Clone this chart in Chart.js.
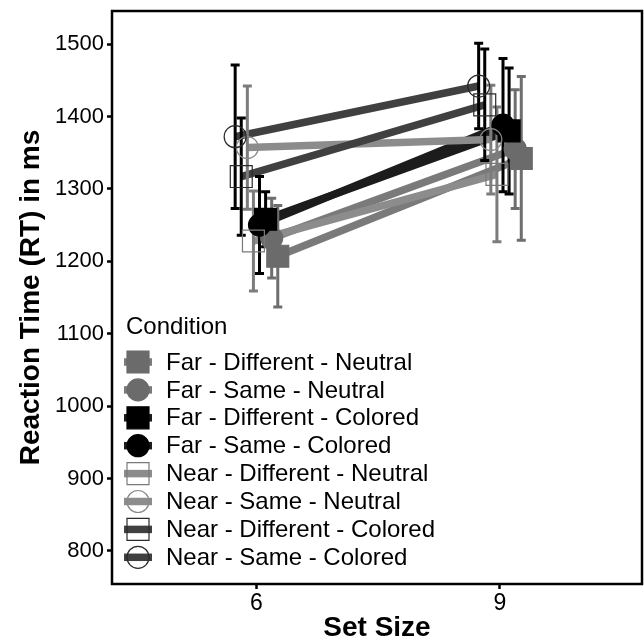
<!DOCTYPE html>
<html lang="en">
<head>
    <meta charset="UTF-8">
    <title>Reaction Time by Set Size</title>
    <style>
        body {
            margin: 0;
            background-color: #fff;
        }
        #chart {
            display: block;
        }
    </style>
</head>
<body>
    <canvas id="chart" width="644" height="642"></canvas>

    <script src="https://cdn.jsdelivr.net/npm/chart.js"></script>
    <script>
        // data (legend order)
        const conditions = [
            'Far - Different - Neutral',
            'Far - Same - Neutral',
            'Far - Different - Colored',
            'Far - Same - Colored',
            'Near - Different - Neutral',
            'Near - Same - Neutral',
            'Near - Different - Colored',
            'Near - Same - Colored'
        ];
        const setSizes = [6, 9];
        const rtSet6 = [1207, 1232, 1258, 1250, 1228, 1357, 1317, 1372];
        const rtSet9 = [1342, 1355, 1380, 1388, 1320, 1368, 1416, 1442];
        const errSet6 = [70, 55, 38, 67, 69, 85, 81, 99];
        const errSet9 = [113, 82, 87, 92, 93, 75, 77, 59];
        const yTicks = [800, 900, 1000, 1100, 1200, 1300, 1400, 1500];

        // styles
        const lineColors = ['#7a7a7a', '#7a7a7a', '#1c1c1c', '#1c1c1c', '#8c8c8c', '#8c8c8c', '#404040', '#404040'];
        const barColors = ['#6e6e6e', '#6e6e6e', '#000', '#000', '#7c7c7c', '#7c7c7c', '#000', '#000'];
        const fillColors = ['#6b6b6b', '#6b6b6b', '#000', '#000', 'rgba(0,0,0,0)', 'rgba(0,0,0,0)', 'rgba(0,0,0,0)', 'rgba(0,0,0,0)'];
        const strokeColors = ['#6b6b6b', '#6b6b6b', '#000', '#000', '#7a7a7a', '#8a8a8a', '#2a2a2a', '#2a2a2a'];
        const shapes = ['rect', 'circle', 'rect', 'circle', 'rect', 'circle', 'rect', 'circle'];
        const dodgeStep = 0.075;
        const fontFamily = "'Liberation Sans', Arial, sans-serif";

        function dodge(i) {
            // groups are dodged in reverse legend order
            return (3.5 - i) * dodgeStep;
        }

        function pointsFor(i) {
            return [
                { x: setSizes[0] + dodge(i), y: rtSet6[i] },
                { x: setSizes[1] + dodge(i), y: rtSet9[i] }
            ];
        }

        const datasets = [];
        // lines first (drawn underneath)
        conditions.forEach(function(label, i) {
            datasets.push({
                label: label,
                data: pointsFor(i),
                borderColor: lineColors[i],
                borderWidth: 7.5,
                pointRadius: 0,
                showLine: true,
                order: 100 - i,
                kind: 'line'
            });
        });
        // then markers
        conditions.forEach(function(label, i) {
            datasets.push({
                label: label,
                data: pointsFor(i),
                showLine: false,
                pointStyle: shapes[i],
                pointRadius: shapes[i] === 'rect' ? 15.5 : 11,
                pointBackgroundColor: fillColors[i],
                pointBorderColor: strokeColors[i],
                pointBorderWidth: 1.2,
                order: 50 - i,
                kind: 'point'
            });
        });

        let barsDrawn = false;
        const errorBars = {
            id: 'errorBars',
            beforeDatasetsDraw: function() {
                barsDrawn = false;
            },
            beforeDatasetDraw: function(chart, args) {
                if (barsDrawn || chart.data.datasets[args.index].kind !== 'point') return;
                barsDrawn = true;
                const ctx = chart.ctx;
                const xs = chart.scales.x;
                const ys = chart.scales.y;
                ctx.save();
                ctx.lineWidth = 3;
                ctx.lineCap = 'butt';
                conditions.forEach(function(c, i) {
                    [[rtSet6, errSet6, 0], [rtSet9, errSet9, 1]].forEach(function(set) {
                        const px = xs.getPixelForValue(setSizes[set[2]] + dodge(i));
                        const top = ys.getPixelForValue(set[0][i] + set[1][i]);
                        const bot = ys.getPixelForValue(set[0][i] - set[1][i]);
                        ctx.strokeStyle = barColors[i];
                        ctx.beginPath();
                        ctx.moveTo(px, top);
                        ctx.lineTo(px, bot);
                        ctx.moveTo(px - 4.5, top);
                        ctx.lineTo(px + 4.5, top);
                        ctx.moveTo(px - 4.5, bot);
                        ctx.lineTo(px + 4.5, bot);
                        ctx.stroke();
                    });
                });
                ctx.restore();
            }
        };

        const panelAndLegend = {
            id: 'panelAndLegend',
            afterDraw: function(chart) {
                const ctx = chart.ctx;
                const a = chart.chartArea;
                ctx.save();
                // panel border
                ctx.strokeStyle = '#000';
                ctx.lineWidth = 2.5;
                ctx.strokeRect(a.left, a.top, a.right - a.left, a.bottom - a.top);

                // legend inside the panel
                ctx.fillStyle = '#000';
                ctx.font = '24px ' + fontFamily;
                ctx.textBaseline = 'middle';
                ctx.textAlign = 'left';
                ctx.fillText('Condition', 126, 327);
                conditions.forEach(function(label, i) {
                    const cy = 362 + i * 27.9;
                    const cx = 138;
                    ctx.strokeStyle = lineColors[i];
                    ctx.lineWidth = 7.5;
                    ctx.beginPath();
                    ctx.moveTo(cx - 14, cy);
                    ctx.lineTo(cx + 14, cy);
                    ctx.stroke();
                    ctx.fillStyle = fillColors[i];
                    ctx.strokeStyle = strokeColors[i];
                    ctx.lineWidth = 1.2;
                    ctx.beginPath();
                    if (shapes[i] === 'rect') {
                        ctx.rect(cx - 11, cy - 11, 22, 22);
                    } else {
                        ctx.arc(cx, cy, 11, 0, Math.PI * 2);
                    }
                    ctx.fill();
                    ctx.stroke();
                    ctx.fillStyle = '#000';
                    ctx.fillText(label, 166, cy + 1);
                });
                ctx.restore();
            }
        };

        new Chart(document.getElementById('chart'), {
            type: 'line',
            data: { datasets: datasets },
            options: {
                responsive: false,
                animation: false,
                layout: { autoPadding: false, padding: { top: 11, right: 2, left: 0, bottom: 0 } },
                plugins: {
                    legend: { display: false },
                    tooltip: { enabled: false }
                },
                scales: {
                    x: {
                        type: 'linear',
                        min: 4.22,
                        max: 10.75,
                        afterBuildTicks: function(scale) {
                            scale.ticks = setSizes.map(function(v) { return { value: v }; });
                        },
                        afterFit: function(scale) {
                            scale.height = 58;
                            scale.paddingLeft = 0;
                            scale.paddingRight = 0;
                        },
                        border: { display: false },
                        grid: {
                            drawOnChartArea: false,
                            tickLength: 5,
                            tickWidth: 2.5,
                            tickColor: '#000'
                        },
                        ticks: {
                            color: '#000',
                            padding: 1,
                            maxRotation: 0,
                            font: { family: fontFamily, size: 23 },
                            callback: function(v) { return String(v); }
                        },
                        title: {
                            display: true,
                            text: 'Set Size',
                            color: '#000',
                            padding: 0,
                            font: { family: fontFamily, size: 28, weight: 'bold', lineHeight: 1.0 }
                        }
                    },
                    y: {
                        min: 754.4,
                        max: 1545.6,
                        afterBuildTicks: function(scale) {
                            scale.ticks = yTicks.map(function(v) { return { value: v }; });
                        },
                        afterFit: function(scale) {
                            scale.width = 112;
                            scale.paddingTop = 0;
                            scale.paddingBottom = 0;
                        },
                        border: { display: false },
                        grid: {
                            drawOnChartArea: false,
                            tickLength: 5,
                            tickWidth: 2.5,
                            tickColor: '#000'
                        },
                        ticks: {
                            color: '#000',
                            padding: 3,
                            font: { family: fontFamily, size: 22, lineHeight: 0.4 },
                            callback: function(v) { return String(v); }
                        },
                        title: {
                            display: true,
                            text: 'Reaction Time (RT) in ms',
                            color: '#000',
                            padding: { top: 17 },
                            font: { family: fontFamily, size: 28, weight: 'bold', lineHeight: 1.0 }
                        }
                    }
                }
            },
            plugins: [errorBars, panelAndLegend]
        });
    </script>
</body>
</html>
